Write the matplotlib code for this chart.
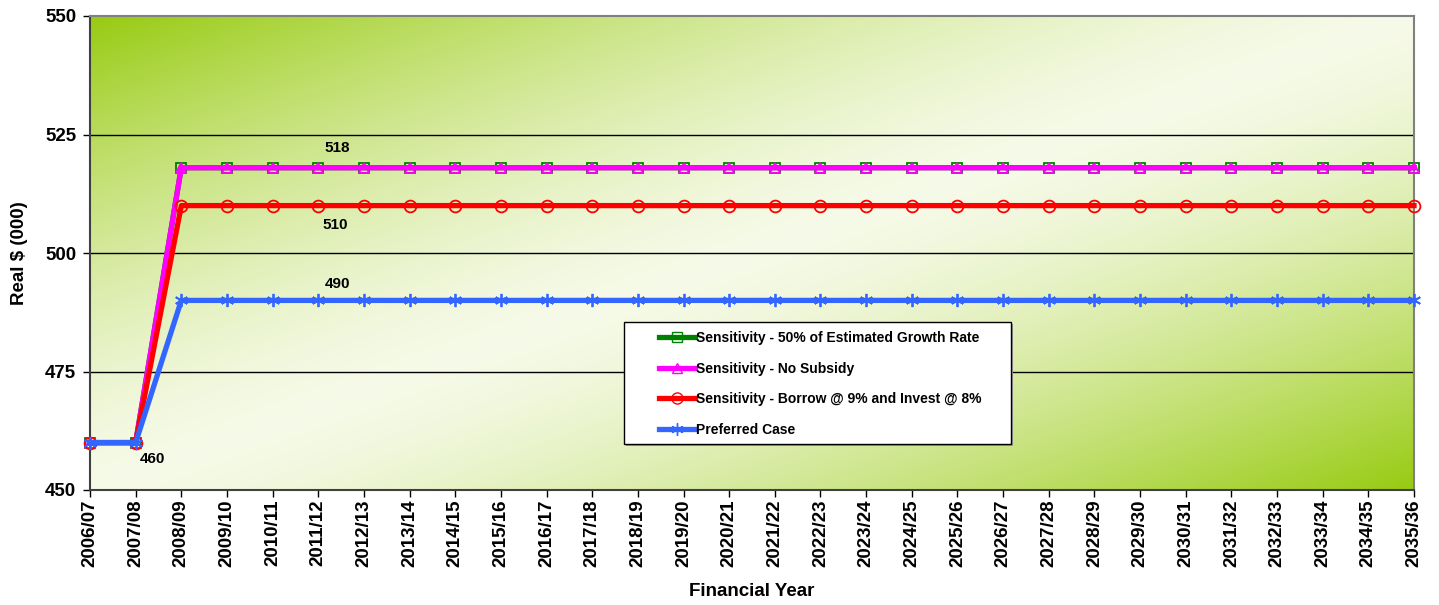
import numpy as np
import matplotlib
matplotlib.use("Agg")
import matplotlib.pyplot as plt
from matplotlib.lines import Line2D
from matplotlib.patches import Rectangle

plt.rcParams['font.family'] = ['Liberation Sans', 'DejaVu Sans']
plt.rcParams['font.weight'] = 'bold'

# Financial years 2006/07 .. 2035/36
years = [f"{y}/{str(y + 1)[-2:]}" for y in range(2006, 2036)]

growth_50 = [460, 460] + [518] * 28
no_subsidy = [460, 460] + [518] * 28
borrow_invest = [460, 460] + [510] * 28
preferred = [460, 460] + [490] * 28

series_names = [
    "Sensitivity - 50% of Estimated Growth Rate",
    "Sensitivity - No Subsidy",
    "Sensitivity - Borrow @ 9% and Invest @ 8%",
    "Preferred Case",
]

W, H = 1439, 605
fig = plt.figure(figsize=(W / 100, H / 100), dpi=100)
ax = fig.add_axes([90 / W, 1 - 490 / H, (1414 - 90) / W, (490 - 16) / H])

# Diagonal two-tone gradient background: green corners, pale centre
green = np.array([152, 203, 18]) / 255
pale = np.array([246, 250, 232]) / 255
nx, ny = 400, 200
u = np.linspace(0, 1, nx)[None, :]
v = np.linspace(0, 1, ny)[:, None]          # 0 at top row
s = (u + v) / 2
f = np.abs(2 * s - 1) ** 1.45
img = pale[None, None, :] * (1 - f[..., None]) + green[None, None, :] * f[..., None]
ax.imshow(img, extent=(0, 1, 0, 1), transform=ax.transAxes, aspect='auto',
          origin='upper', zorder=0, interpolation='bilinear')

x = np.arange(len(years))
lw = 3.8
ax.plot(x, growth_50, color='#008000', lw=lw, marker='s', ms=7.5,
        mfc='none', mec='#008000', mew=1.3, zorder=3, clip_on=False)
ax.plot(x, no_subsidy, color='#FF00FF', lw=lw, marker='^', ms=7.5,
        mfc='none', mec='#FF00FF', mew=1.3, zorder=4, clip_on=False)
ax.plot(x, borrow_invest, color='#FF0000', lw=lw, marker='o', ms=8.5,
        mfc='none', mec='#FF0000', mew=1.3, zorder=5, clip_on=False)
ax.plot(x, preferred, color='#3366FF', lw=lw, marker=(6, 2, 0), ms=9.5,
        mfc='none', mec='#3366FF', mew=1.3, zorder=6, clip_on=False)

ax.set_xlim(0, len(years) - 1)
ax.set_ylim(450, 550)
ax.set_yticks([450, 475, 500, 525, 550])
ax.set_xticks(x)
ax.set_xticklabels(years, rotation=90, fontsize=13.5, fontweight='bold')
ax.tick_params(axis='y', labelsize=13.5, length=5, direction='out', width=1, pad=5)
ax.tick_params(axis='x', length=5, direction='out', width=1, pad=2)
for lab in ax.get_yticklabels():
    lab.set_fontweight('bold')

for yv in [475, 500, 525]:
    ax.axhline(yv, color='black', lw=1, zorder=1)

for side in ['top', 'right']:
    ax.spines[side].set_color('#808080')
    ax.spines[side].set_linewidth(1.5)
ax.spines['left'].set_color('#404040')
ax.spines['bottom'].set_color('#404040')
ax.spines['left'].set_linewidth(1.5)
ax.spines['bottom'].set_linewidth(1.5)

ax.set_ylabel("Real $ (000)", fontsize=13.5, fontweight='bold', labelpad=12)
ax.set_xlabel("Financial Year", fontsize=13.5, fontweight='bold', labelpad=11)

# Value labels
lab_kw = dict(textcoords='offset points', ha='center', va='center',
              fontsize=11, fontweight='bold', zorder=8)
ax.annotate(f"{no_subsidy[5]}", (5, no_subsidy[5]), xytext=(14, 14), **lab_kw)
ax.annotate(f"{borrow_invest[5]}", (5, borrow_invest[5]), xytext=(12, -14), **lab_kw)
ax.annotate(f"{preferred[5]}", (5, preferred[5]), xytext=(14, 11.5), **lab_kw)
ax.annotate(f"{preferred[1]}", (1, preferred[1]), xytext=(12, -11.5), **lab_kw)

# Legend in a framed box with a faint drop shadow
shadow = Rectangle((626 / W, 1 - 446 / H), 387 / W, 122 / H, transform=fig.transFigure,
                   facecolor='#9a9a9a', edgecolor='none', zorder=8)
fig.patches.append(shadow)
box = Rectangle((624 / W, 1 - 444 / H), 387 / W, 122 / H, transform=fig.transFigure,
                facecolor='white', edgecolor='black', lw=1, zorder=9)
fig.patches.append(box)
handles = [
    Line2D([], [], color='#008000', lw=lw, marker='s', ms=7, mfc='none', mec='#008000'),
    Line2D([], [], color='#FF00FF', lw=lw, marker='^', ms=7, mfc='none', mec='#FF00FF'),
    Line2D([], [], color='#FF0000', lw=lw, marker='o', ms=8, mfc='none', mec='#FF0000'),
    Line2D([], [], color='#3366FF', lw=lw, marker=(6, 2, 0), ms=9, mfc='none', mec='#3366FF'),
]
leg = fig.legend(handles, series_names, loc='upper left',
                 bbox_to_anchor=(659 / W, 1 - 331 / H), frameon=False,
                 prop={'size': 10, 'weight': 'bold'}, handlelength=2.6,
                 handletextpad=0.1, labelspacing=1.2, borderaxespad=0, borderpad=0)
leg.set_zorder(10)

fig.savefig("out.png", dpi=100)
